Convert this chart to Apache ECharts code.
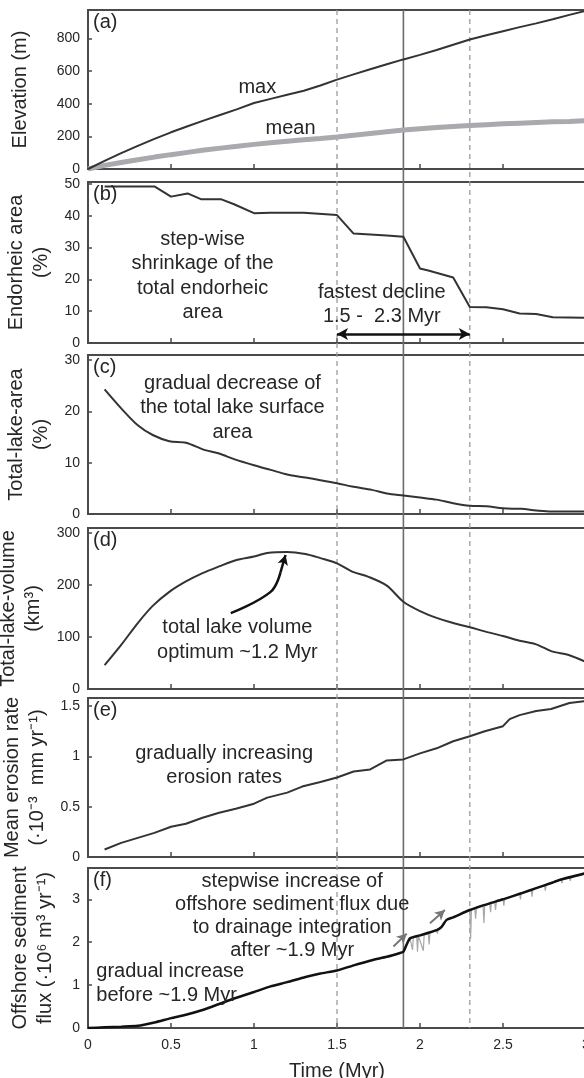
<!DOCTYPE html>
<html>
<head>
<meta charset="utf-8">
<script src="https://cdn.jsdelivr.net/npm/echarts@6/dist/echarts.min.js"></script>
<style>
  html, body { margin: 0; padding: 0; background: #fff; }
  #chart { width: 584px; height: 1078px; }
</style>
</head>
<body>
<div id="chart"></div>
<script>
// ---- data (time in Myr) ----
const elevTime = [0, 0.1, 0.2, 0.3, 0.4, 0.5, 0.6, 0.7, 0.8, 0.9, 1.0, 1.1, 1.2, 1.3, 1.4, 1.5, 1.6, 1.7, 1.8, 1.9, 2.0, 2.1, 2.2, 2.3, 2.4, 2.5, 2.6, 2.7, 2.8, 2.9, 3.0];
const elevMax = [0, 50, 97, 142, 185, 225, 262, 298, 333, 367, 405, 430, 455, 480, 512, 548, 580, 612, 642, 672, 700, 730, 762, 794, 820, 845, 870, 893, 918, 945, 970];
const elevMean = [0, 22, 40, 57, 73, 88, 102, 116, 128, 140, 151, 161, 170, 179, 187, 196, 207, 218, 229, 239, 247, 254, 261, 267, 272, 277, 281, 285, 289, 292, 296];

const endoTime = [0.1, 0.4, 0.5, 0.6, 0.68, 0.8, 0.88, 1.0, 1.1, 1.3, 1.5, 1.6, 1.8, 1.9, 2.0, 2.05, 2.2, 2.3, 2.4, 2.5, 2.6, 2.7, 2.8, 3.0];
const endoArea = [49.2, 49.2, 46, 47, 45.2, 45.2, 43.6, 40.8, 40.9, 40.9, 40.2, 34.4, 33.8, 33.4, 23.4, 22.8, 20.6, 11.3, 11.2, 10.6, 9.3, 9.1, 8.1, 7.9];

const lakeAreaTime = [0.1, 0.2, 0.3, 0.39, 0.49, 0.59, 0.7, 0.79, 0.88, 1.0, 1.1, 1.2, 1.31, 1.4, 1.5, 1.6, 1.71, 1.8, 1.9, 2.0, 2.1, 2.2, 2.3, 2.4, 2.5, 2.61, 2.7, 2.79, 3.0];
const lakeArea = [24.3, 20.6, 17.3, 15.4, 14.2, 13.9, 12.5, 11.8, 10.7, 9.5, 8.6, 7.7, 7.1, 6.6, 6.0, 5.3, 4.7, 4.0, 3.6, 3.2, 2.8, 2.1, 1.6, 1.5, 1.1, 1.0, 0.7, 0.5, 0.5];

const lakeVolTime = [0.1, 0.2, 0.3, 0.39, 0.49, 0.59, 0.69, 0.79, 0.89, 1.0, 1.08, 1.2, 1.31, 1.4, 1.5, 1.6, 1.69, 1.8, 1.9, 2.0, 2.1, 2.2, 2.3, 2.39, 2.5, 2.6, 2.7, 2.79, 2.9, 3.0];
const lakeVol = [46, 85, 127, 160, 187, 207, 223, 236, 248, 255, 262, 264, 260, 252, 242, 225, 216, 199, 168, 150, 137, 127, 119, 111, 102, 93, 86, 73, 65, 52];

const erosTime = [0.1, 0.2, 0.3, 0.4, 0.5, 0.59, 0.69, 0.79, 0.89, 1.0, 1.08, 1.2, 1.29, 1.4, 1.5, 1.6, 1.7, 1.8, 1.9, 2.0, 2.1, 2.2, 2.3, 2.39, 2.5, 2.54, 2.6, 2.7, 2.79, 2.9, 3.0];
const erosRate = [0.074, 0.14, 0.19, 0.24, 0.3, 0.33, 0.39, 0.44, 0.48, 0.53, 0.59, 0.64, 0.7, 0.745, 0.79, 0.85, 0.87, 0.96, 0.97, 1.03, 1.08, 1.15, 1.2, 1.25, 1.3, 1.37, 1.41, 1.45, 1.47, 1.53, 1.55];

const fluxTime = [0, 0.1, 0.2, 0.3, 0.4, 0.5, 0.59, 0.69, 0.79, 0.89, 1.0, 1.1, 1.2, 1.31, 1.4, 1.5, 1.6, 1.71, 1.8, 1.88, 1.9, 1.92, 1.94, 2.0, 2.1, 2.13, 2.16, 2.2, 2.3, 2.39, 2.5, 2.61, 2.7, 2.79, 2.84, 3.0];
const fluxMean = [0, 0.015, 0.03, 0.05, 0.13, 0.23, 0.31, 0.42, 0.56, 0.7, 0.84, 0.97, 1.07, 1.19, 1.27, 1.34, 1.46, 1.58, 1.66, 1.75, 1.78, 1.95, 2.09, 2.16, 2.28, 2.36, 2.52, 2.58, 2.75, 2.87, 3.0, 3.14, 3.26, 3.38, 3.45, 3.61];
// raw flux with short-lived drops
const fluxRawTime = [1.9, 1.92, 1.94, 1.95, 1.955, 1.96, 1.98, 1.985, 1.99, 2.0, 2.02, 2.025, 2.05, 2.055, 2.06, 2.1, 2.105, 2.11, 2.13, 2.16, 2.2, 2.25, 2.3, 2.305, 2.31, 2.33, 2.335, 2.34, 2.38, 2.385, 2.39, 2.42, 2.425, 2.43, 2.45, 2.455, 2.46, 2.5, 2.505, 2.51, 2.6, 2.605, 2.61, 2.67, 2.675, 2.68, 2.75, 2.755, 2.76, 2.85, 2.855, 2.86, 2.9, 2.905, 2.91, 3.0];
const fluxRaw = [1.78, 1.95, 2.09, 2.11, 1.82, 2.12, 2.14, 1.78, 2.15, 2.16, 1.8, 2.17, 2.2, 1.95, 2.21, 2.28, 2.2, 2.3, 2.36, 2.52, 2.58, 2.66, 2.75, 2.08, 2.76, 2.78, 2.55, 2.79, 2.84, 2.45, 2.86, 2.9, 2.7, 2.91, 2.93, 2.75, 2.94, 3.0, 2.85, 3.01, 3.14, 3.0, 3.15, 3.23, 3.06, 3.24, 3.32, 3.2, 3.33, 3.46, 3.38, 3.47, 3.52, 3.43, 3.53, 3.61];

const markTimes = { dashed: [1.5, 2.3], solid: [1.9] };

// ---- layout ----
const FONT = '"Liberation Sans", Arial, Helvetica, sans-serif';
const INK = '#262626';
const FRAME = '#4a4a4a';
const panels = [
  { top: 10, bottom: 169 },
  { top: 182, bottom: 343 },
  { top: 355, bottom: 514 },
  { top: 528, bottom: 689 },
  { top: 698, bottom: 857 },
  { top: 868, bottom: 1028 }
];

const pairs = (xs, ys) => xs.map((x, i) => [x, ys[i]]);

const grids = panels.map(p => ({
  left: 88, width: 498, top: p.top, height: p.bottom - p.top,
  containLabel: false, outerBoundsMode: 'none',
  show: true, borderColor: FRAME, borderWidth: 2, backgroundColor: 'transparent'
}));

const xAxes = panels.map((p, i) => ({
  type: 'value', gridIndex: i, min: 0, max: 3, interval: 0.5,
  axisLine: { show: true, lineStyle: { color: FRAME, width: 2 } },
  axisTick: { show: true, inside: true, length: 5, lineStyle: { color: FRAME, width: 1.5 } },
  splitLine: { show: false },
  axisLabel: { show: i === 5, color: INK, fontFamily: FONT, fontSize: 14, margin: 10,
    formatter: v => String(v) },
  name: i === 5 ? 'Time (Myr)' : '',
  nameLocation: 'middle', nameGap: 33,
  nameTextStyle: { color: INK, fontFamily: FONT, fontSize: 20 }
}));

const yDefs = [
  { max: 975, interval: 200, name: 'Elevation (m)', gap: 55 },
  { max: 50.6, interval: 10, name: 'Endorheic area\n(%)', gap: 30 },
  { max: 31, interval: 10, name: 'Total-lake-area\n(%)', gap: 30 },
  { max: 310, interval: 100, name: 'Total-lake-volume\n(km³)', gap: 30 },
  { max: 1.58, interval: 0.5, name: 'Mean erosion rate\n(·10⁻³  mm yr⁻¹)', gap: 30 },
  { max: 3.73, interval: 1, name: 'Offshore sediment\nflux (·10⁶ m³ yr⁻¹)', gap: 30 }
];
const yAxes = yDefs.map((d, i) => ({
  type: 'value', gridIndex: i, min: 0, max: d.max, interval: d.interval,
  axisLine: { show: true, lineStyle: { color: FRAME, width: 2 } },
  axisTick: { show: true, inside: true, length: 4, lineStyle: { color: FRAME, width: 1.5 } },
  splitLine: { show: false },
  axisLabel: { color: INK, fontFamily: FONT, fontSize: 14, margin: 8, showMaxLabel: false,
    formatter: v => String(v) },
  name: d.name, nameLocation: 'middle', nameRotate: 90, nameGap: d.gap,
  nameTextStyle: { color: INK, fontFamily: FONT, fontSize: 20, lineHeight: 25 }
}));

const lineBase = { type: 'line', showSymbol: false, symbol: 'none', smooth: false, animation: false, z: 3 };
const arrowLine = (gi, from, to, color, width, both) => ({
  ...lineBase, xAxisIndex: gi, yAxisIndex: gi, data: [],
  markLine: {
    silent: true, animation: false, symbol: both ? ['arrow', 'arrow'] : ['none', 'arrow'], symbolSize: both ? [9, 11] : [8, 10],
    label: { show: false }, lineStyle: { color, width, type: 'solid' },
    data: [[{ coord: from }, { coord: to }]]
  }
});

const series = [
  { ...lineBase, name: 'mean', xAxisIndex: 0, yAxisIndex: 0, data: pairs(elevTime, elevMean), lineStyle: { color: '#a9a9ae', width: 5 } },
  { ...lineBase, name: 'max', xAxisIndex: 0, yAxisIndex: 0, data: pairs(elevTime, elevMax), lineStyle: { color: '#333', width: 2 } },
  { ...lineBase, xAxisIndex: 1, yAxisIndex: 1, data: pairs(endoTime, endoArea), lineStyle: { color: '#333', width: 2 } },
  arrowLine(1, [1.5, 2.8], [2.3, 2.8], '#111', 2.5, true),
  { ...lineBase, xAxisIndex: 2, yAxisIndex: 2, data: pairs(lakeAreaTime, lakeArea), smooth: 0.3, lineStyle: { color: '#333', width: 2 } },
  { ...lineBase, xAxisIndex: 3, yAxisIndex: 3, data: pairs(lakeVolTime, lakeVol), smooth: 0.3, lineStyle: { color: '#333', width: 2 } },
  // curved pointer to the volume optimum
  { ...lineBase, xAxisIndex: 3, yAxisIndex: 3, data: [[0.86, 146], [1.1, 187], [1.16, 225]], smooth: 0.4, lineStyle: { color: '#111', width: 2.5 } },
  arrowLine(3, [1.16, 225], [1.19, 258], '#111', 2.5, false),
  { ...lineBase, xAxisIndex: 4, yAxisIndex: 4, data: pairs(erosTime, erosRate), lineStyle: { color: '#333', width: 2 } },
  { ...lineBase, xAxisIndex: 5, yAxisIndex: 5, data: pairs(fluxRawTime, fluxRaw), lineStyle: { color: '#a8a8a8', width: 1.2 }, z: 2 },
  { ...lineBase, xAxisIndex: 5, yAxisIndex: 5, data: pairs(fluxTime, fluxMean), smooth: 0.2, lineStyle: { color: '#111', width: 2.5 } },
  arrowLine(5, [1.84, 1.9], [1.92, 2.2], '#777', 2, false),
  arrowLine(5, [2.06, 2.44], [2.15, 2.75], '#777', 2, false)
];

// annotation texts, anchored in data coordinates of each panel
const notes = [
  { g: 0, at: [1.02, 497], text: 'max' },
  { g: 0, at: [1.22, 251], text: 'mean' },
  { g: 1, at: [0.69, 21], text: 'step-wise\nshrinkage of the\ntotal endorheic\narea' },
  { g: 1, at: [1.77, 12.1], text: 'fastest decline\n1.5 -  2.3 Myr' },
  { g: 2, at: [0.87, 20.7], text: 'gradual decrease of\nthe total lake surface\narea' },
  { g: 3, at: [0.9, 94], text: 'total lake volume\noptimum ~1.2 Myr' },
  { g: 4, at: [0.82, 0.91], text: 'gradually increasing\nerosion rates' },
  { g: 5, at: [1.23, 2.6], text: 'stepwise increase of\noffshore sediment flux due\nto drainage integration\nafter ~1.9 Myr', lh: 23 },
  { g: 5, at: [0.05, 1.04], text: 'gradual increase\nbefore ~1.9 Myr', align: 'left' }
];
const panelTags = ['(a)', '(b)', '(c)', '(d)', '(e)', '(f)'];

const chart = echarts.init(document.getElementById('chart'), null, { renderer: 'canvas' });
chart.setOption({
  animation: false,
  backgroundColor: '#fff',
  grid: grids, xAxis: xAxes, yAxis: yAxes, series
});

function overlay() {
  const els = [];
  const top = panels[0].top, bottom = panels[5].bottom;
  markTimes.dashed.forEach(t => {
    const x = chart.convertToPixel({ xAxisIndex: 0 }, t);
    els.push({ type: 'line', z: 1, silent: true, shape: { x1: x, y1: top, x2: x, y2: bottom },
      style: { stroke: '#9c9c9c', lineWidth: 1.3, lineDash: [5, 4] } });
  });
  markTimes.solid.forEach(t => {
    const x = chart.convertToPixel({ xAxisIndex: 0 }, t);
    els.push({ type: 'line', z: 1, silent: true, shape: { x1: x, y1: top, x2: x, y2: bottom },
      style: { stroke: '#6c6c6c', lineWidth: 1.6 } });
  });
  notes.forEach(n => {
    const p = chart.convertToPixel({ gridIndex: n.g }, n.at);
    els.push({ type: 'text', z: 10, silent: true, x: p[0], y: p[1],
      style: { text: n.text, fill: INK, font: '20px ' + FONT, lineHeight: n.lh || 24.5,
        align: n.align || 'center', verticalAlign: 'middle' } });
  });
  panelTags.forEach((t, i) => {
    els.push({ type: 'text', z: 10, silent: true, x: 93, y: panels[i].top + 2,
      style: { text: t, fill: INK, font: '20px ' + FONT, align: 'left', verticalAlign: 'top' } });
  });
  chart.setOption({ graphic: { elements: els } });
}
overlay();
</script>
</body>
</html>
